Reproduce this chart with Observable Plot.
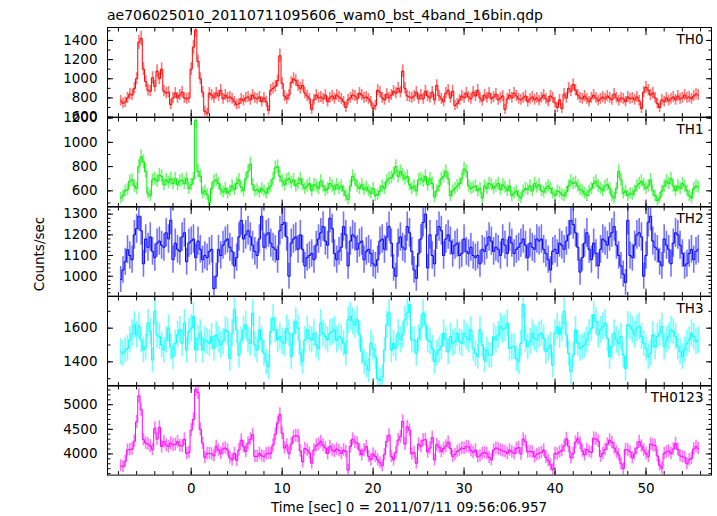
<!DOCTYPE html>
<html>
<head>
<meta charset="utf-8">
<script src="https://cdn.jsdelivr.net/npm/d3@7"></script>
<script src="https://cdn.jsdelivr.net/npm/@observablehq/plot@0.6"></script>
<style>
  html, body { margin: 0; padding: 0; background: #fff; }
  #chart { position: relative; width: 717px; height: 516px; overflow: hidden; background: #fff;
           font-family: "DejaVu Sans", sans-serif; color: #000; }
  .lbl { position: absolute; white-space: nowrap; line-height: 1; }
</style>
</head>
<body>
<div id="chart">
  <div class="lbl" id="title" style="left:107px; top:7.5px; font-size:14px;">ae706025010_20110711095606_wam0_bst_4band_16bin.qdp</div>
  <div class="lbl" id="ylab" style="left:40px; top:254px; font-size:13.5px; transform: translate(-50%,-50%) rotate(-90deg);">Counts/sec</div>
  <div class="lbl" id="xlab" style="left:409px; top:500.5px; font-size:13.5px; transform: translateX(-50%);">Time [sec] 0 = 2011/07/11 09:56:06.957</div>
</div>
<script>
// ---- light-curve bins (0.25 s), time of first bin centre ----
const tStart = -7.75;
const binWidth = 0.25;

const th0 = [
  770,745,755,800, 840,830,900,1000, 1380,1420,1100,970, 880,870,1010,920,
  1080,1000,1100,870, 850,860,730,800, 850,800,830,860, 800,790,800,1100,
  1330,1510,1180,1000, 860,660,640,850, 830,800,850,820, 880,790,830,800,
  810,790,760,730, 740,790,770,800, 810,780,830,800, 790,810,760,800,
  760,670,880,900, 920,980,1240,950, 820,790,830,960, 1000,980,930,900,
  930,850,820,790, 680,780,830,800, 810,790,830,760, 800,820,790,830,
  810,790,760,700, 780,800,830,820, 790,850,830,800, 810,790,760,690,
  720,880,860,800, 780,840,800,830, 870,850,900,860, 1080,900,820,810,
  800,820,860,790, 830,790,870,820, 800,860,780,930, 820,790,760,850,
  880,800,870,720, 740,780,820,800, 850,810,790,860, 820,880,800,770,
  830,800,850,790, 810,840,780,800, 820,680,790,830, 800,850,820,790,
  780,800,820,760, 790,810,780,800, 770,800,830,790, 760,820,800,750,
  700,780,690,840, 800,900,870,940, 880,830,800,790, 820,790,760,800,
  830,800,770,790, 810,790,820,800, 780,840,800,770, 800,790,760,810,
  790,800,780,810, 770,690,860,910, 880,830,850,800, 740,700,780,760,
  800,770,790,810, 780,820,790,800, 830,800,810,790, 820,840,830
];

const th1 = [
  540,560,600,610, 680,690,640,620, 800,880,840,760, 580,560,690,700,
  680,730,720,650, 690,670,700,660, 700,650,680,690, 660,700,620,650,
  700,1180,760,720, 580,600,570,500, 620,680,690,660, 610,590,620,580,
  600,640,610,660, 690,630,600,700, 760,820,650,600, 610,590,620,600,
  580,620,640,700, 790,800,720,680, 650,690,700,670, 690,640,660,700,
  650,620,640,660, 600,650,640,620, 680,640,600,620, 660,640,610,650,
  620,640,600,560, 530,640,720,690, 640,620,650,610, 630,600,580,620,
  560,570,600,640, 620,680,700,710, 740,800,720,760, 730,700,720,650,
  620,640,600,690, 700,680,720,650, 700,660,550,600, 640,700,720,760,
  700,560,600,620, 640,660,700,780, 760,640,620,630, 640,600,620,540,
  640,620,660,650, 620,640,660,610, 650,630,600,640, 560,580,600,560,
  540,600,620,610, 640,600,660,630, 650,600,590,620, 640,620,580,560,
  600,590,570,560, 590,640,680,660, 670,640,610,600, 580,560,600,620,
  660,680,640,620, 600,640,650,620, 560,540,620,760, 690,580,600,560,
  580,570,600,640, 660,680,650,620, 640,690,600,560, 520,540,600,640,
  680,660,700,640, 600,640,620,660, 640,600,560,540, 620,640,630
];

const th2 = [
  984,1030,1070,1128,1100,1080,1200,1230,1290,1220,1060,1180,1140,1190,1120,1090,
  1160,1170,1150,1140,1210,1180,1270,1080,1160,1130,1120,1190,1210,1070,1160,1170,
  1180,1090,1170,1130,1080,1100,1090,1120,1130,940,1000,1130,1100,1150,1170,1180,
  1140,1120,1050,1090,1190,1270,1180,1200,1220,1190,1150,1120,1100,1180,1290,1140,
  1200,1210,1160,1140,1130,1080,1220,1250,1260,1190,1000,1160,1180,1190,1130,1200,
  1130,1050,1090,1100,1110,1080,1150,1180,1210,1240,1170,1150,1280,1230,1110,1080,
  1120,1140,1240,1200,1050,1170,1200,1190,1130,1160,1170,1080,1120,1130,1110,1060,
  1050,1080,1170,1180,1130,1190,1240,1160,1040,1000,1160,1190,1140,1130,1240,1210,
  1120,1030,990,1110,1180,1260,1300,1040,1200,1100,1060,1200,1240,1220,1100,1180,
  1200,1170,1110,1150,1160,1100,1110,1180,1120,1110,1140,1100,1090,1100,1060,1130,
  1120,1150,1190,1170,1120,1140,1130,1100,1180,1150,1110,1190,1160,1110,1130,1140,
  1160,1180,1150,1090,1160,1140,1130,1180,1170,1180,1130,1110,1080,1030,1120,1130,
  1110,1160,1150,1130,1170,1200,1270,1250,1210,1140,1020,1090,1160,1210,1130,1080,
  1160,1110,1050,1130,1180,1170,1150,1190,1210,1240,1150,1100,1050,1010,970,1270,
  1100,1090,1150,1200,1210,1190,1000,1100,1260,1290,1170,1140,1130,1070,1050,1180,
  1150,1130,1060,1160,1210,1200,1150,1110,1050,1060,1110,1130,1080,1120,1130
];

const th3 = [
  1460,1450,1470,1480,1530,1570,1620,1560,1610,1530,1470,1490,1630,1580,1410,1700,
  1560,1550,1500,1470,1530,1600,1490,1430,1510,1560,1590,1510,1630,1470,1580,1600,
  1670,1470,1540,1570,1470,1530,1520,1510,1550,1480,1560,1530,1500,1520,1590,1580,
  1420,1570,1710,1590,1440,1530,1590,1620,1530,1510,1690,1500,1470,1590,1530,1450,
  1400,1370,1580,1660,1590,1530,1550,1520,1510,1600,1570,1430,1570,1640,1600,1450,
  1400,1530,1590,1540,1530,1570,1500,1480,1630,1570,1550,1530,1570,1580,1590,1530,
  1550,1540,1510,1450,1650,1670,1640,1620,1650,1560,1460,1400,1380,1350,1510,1480,
  1430,1300,1290,1310,1470,1620,1690,1470,1510,1480,1570,1530,1560,1650,1690,1740,
  1530,1530,1450,1540,1600,1690,1620,1530,1520,1480,1400,1450,1470,1490,1570,1530,
  1460,1550,1510,1520,1570,1520,1510,1570,1550,1530,1590,1480,1450,1430,1590,1500,
  1410,1470,1440,1440,1550,1530,1560,1610,1590,1600,1630,1480,1490,1490,1420,1400,
  1510,1740,1530,1490,1520,1570,1540,1530,1560,1570,1540,1460,1480,1500,1380,1570,
  1610,1560,1600,1700,1560,1450,1340,1440,1590,1510,1480,1490,1500,1530,1570,1600,
  1680,1640,1560,1590,1610,1630,1540,1430,1490,1570,1530,1510,1550,1440,1360,1620,
  1610,1590,1560,1600,1610,1550,1510,1480,1430,1450,1560,1490,1550,1570,1610,1490,
  1530,1550,1590,1580,1550,1490,1460,1430,1470,1510,1530,1570,1550,1520,1530
];

const th0123 = [
  3760,3740,3850,4080,4090,4100,4260,4650,5180,4900,4290,4220,4200,4160,4090,4520,
  4300,4540,4150,4250,4180,4150,4220,4180,4190,4250,4170,4160,4300,4010,4030,4480,
  4700,5310,5250,4500,4220,3930,4010,4010,4000,3960,4150,4080,4010,4100,4120,4080,
  3920,3880,4010,3870,4080,4280,4150,4050,4220,4300,4390,3950,3950,4010,3960,3940,
  4000,4020,4010,4180,4400,4630,4800,4420,4120,4180,4010,4200,4350,4370,4360,4060,
  3840,4110,4080,4020,3810,4080,4170,4200,4250,4180,4120,4010,4150,4080,4050,4100,
  4070,4010,4080,4050,3670,4150,4300,4240,4220,4080,3980,4080,4150,3950,3880,4000,
  3950,3880,3820,3760,3990,4250,4380,3950,3880,4030,4280,4350,4660,4200,4550,4480,
  4000,4030,3810,4200,4150,4280,4290,4040,4120,4330,3880,4190,4140,4050,4110,4160,
  4240,4110,3950,3990,4050,4080,4120,4110,4150,4140,4070,4030,4080,3940,3960,4010,
  4030,4010,3930,3880,4080,4120,4100,4080,4060,4050,4010,4080,4040,4010,4110,4130,
  4000,4300,4250,4040,4050,4040,3940,3990,4010,4030,4080,3930,3870,3780,3680,4010,
  4000,4040,4070,4160,4310,4150,3920,4010,4240,4310,4220,4060,3980,4090,4050,4030,
  4320,4300,4260,3950,4010,4090,4200,4280,4230,4120,4040,3980,3800,3700,4090,4080,
  4040,3920,4000,4120,4250,4160,4080,4010,3950,4200,4180,4170,3960,3770,3710,4010,
  4040,4060,4010,4100,4210,4090,3960,3940,3930,3800,3880,3910,4100,4150,4110
];

const panelNames = ["TH0", "TH1", "TH2", "TH3", "TH0123"];
const yDomains = [[600, 1535], [466, 1205], [904, 1337], [1256, 1788], [3570, 5390]];
const yTickLabels = [[600, 800, 1000, 1200, 1400], [600, 800, 1000, 1200], [1000, 1100, 1200, 1300], [1400, 1600], [4000, 4500, 5000]];
const yMinorSteps = [100, 100, 20, 100, 100];
const xDomain = [-9.2, 57.2];
const xTickLabels = [0, 10, 20, 30, 40, 50];
const xMinorStep = 2;

// ---- styling / layout ----
const series = [th0, th1, th2, th3, th0123];
const colors = ["#ff0000", "#00ee00", "#0000ff", "#00ffff", "#ff00ff"];
const W = 717, panelTop = 27, panelH = 89.6, frameLeft = 107, frameRight = 711;
const chart = document.getElementById("chart");
const fmt = d => String(d);
const xMinor = d3.range(Math.ceil(xDomain[0] / xMinorStep) * xMinorStep, xDomain[1], xMinorStep);

series.forEach((vals, k) => {
  const last = k === series.length - 1;
  const mt = 12, mb = last ? 30 : 12;
  const rows = vals.map((v, i) => {
    const err = Math.sqrt(v * binWidth) / binWidth; // Poisson error of the bin
    return {t: tStart + i * binWidth, v, lo: v - err, hi: v + err};
  });
  const [y0, y1] = yDomains[k];
  const st = yMinorSteps[k];
  const yMinor = d3.range(Math.ceil(y0 / st) * st, y1, st);
  const c = colors[k];
  const marks = [
    Plot.ruleX(rows, {x: "t", y1: "lo", y2: "hi", stroke: c, strokeWidth: 1.6, strokeOpacity: 0.55, clip: true}),
    Plot.line(rows, {x: "t", y: "v", curve: "step", stroke: c, strokeWidth: 1, clip: true}),
    Plot.frame({stroke: "black", strokeWidth: 1}),
    Plot.axisY(yMinor, {anchor: "left", tickSize: -3.5, fill: "none", label: null}),
    Plot.axisY(yMinor, {anchor: "right", tickSize: -3.5, fill: "none", label: null}),
    Plot.axisY(yTickLabels[k], {anchor: "left", tickSize: -6, fill: "none", label: null}),
    Plot.axisY(yTickLabels[k], {anchor: "right", tickSize: -6, fill: "none", label: null}),
    Plot.axisY(yTickLabels[k], {anchor: "left", tickSize: 0, tickPadding: 10, tickFormat: fmt, label: null}),
    Plot.axisX(xMinor, {anchor: "top", tickSize: -3.5, fill: "none", label: null}),
    Plot.axisX(xMinor, {anchor: "bottom", tickSize: -3.5, fill: "none", label: null}),
    Plot.axisX(xTickLabels, {anchor: "top", tickSize: -7, fill: "none", label: null}),
    Plot.axisX(xTickLabels, {anchor: "bottom", tickSize: -7, fill: "none", label: null}),
    Plot.text([panelNames[k]], {text: d => d, frameAnchor: "top-right", textAnchor: "end", dx: -8, dy: 7, fontSize: 13.5, fill: "black"})
  ];
  if (last) {
    marks.push(Plot.axisX(xTickLabels, {anchor: "bottom", tickSize: 0, tickPadding: 8, tickFormat: fmt, label: null}));
  }
  const svg = Plot.plot({
    width: W,
    height: panelH + mt + mb,
    marginLeft: frameLeft,
    marginRight: W - frameRight,
    marginTop: mt,
    marginBottom: mb,
    style: {background: "transparent", overflow: "visible", fontFamily: "DejaVu Sans, sans-serif", fontSize: "13.5px", color: "black"},
    x: {domain: xDomain},
    y: {domain: yDomains[k]},
    marks
  });
  svg.style.position = "absolute";
  svg.style.left = "0px";
  svg.style.top = (panelTop + k * panelH - mt) + "px";
  chart.appendChild(svg);
});
</script>
</body>
</html>
